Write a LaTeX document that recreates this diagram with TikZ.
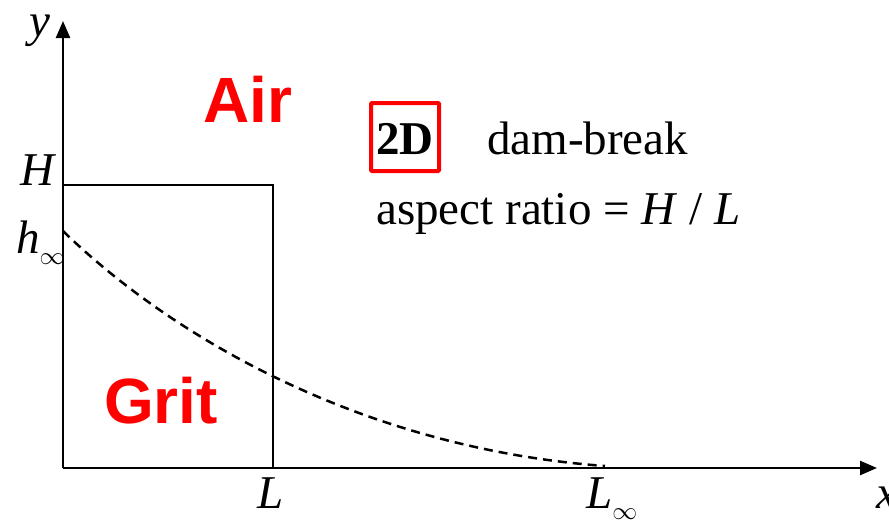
\documentclass[tikz,border=0pt]{standalone}
\usepackage{fontspec}
\setmainfont{Liberation Serif}
\newfontfamily\arialfont{Liberation Sans}
\usetikzlibrary{arrows.meta}
\definecolor{labelred}{RGB}{255,0,0}
\begin{document}
\begin{tikzpicture}[x=1pt,y=-1pt,
  axis/.style={line width=2.4pt,-{Triangle[length=17pt,width=14pt]}},
  damwall/.style={line width=2pt},
  freesurf/.style={line width=2.5pt,dash pattern=on 9pt off 6pt},
  serif/.style={font=\fontsize{47}{52}\selectfont,inner sep=0pt},
  phase/.style={font=\arialfont\bfseries\fontsize{64}{70}\selectfont,text=labelred,inner sep=0pt,anchor=base west},
  dimbox/.style={draw=labelred,line width=4pt,minimum width=68pt,minimum height=68pt,inner sep=0pt,rounded corners=1pt}]
\useasboundingbox (0,0) rectangle (889,523);
\coordinate (O) at (63,468);
\coordinate (ytip) at (63,21);
\coordinate (xtip) at (877,468);
\coordinate (TL) at (63,185);
\coordinate (TR) at (273,185);
\coordinate (BR) at (273,468);
\coordinate (hstart) at (63,231);
\coordinate (hend) at (605,466);
% axes
\draw[axis] (O) -- (ytip);
\draw[axis] (O) -- (xtip);
% dam column
\draw[damwall] (TL) -- (TR) -- (BR);
% final free surface
\draw[freesurf] (hstart) .. controls (170,335) and (360,448) .. (hend);
% axis labels
\node[serif,anchor=base] (ylab) at (40,36) {\itshape y};
\node[serif,anchor=base west] (xlab) at (876,508) {\itshape x};
\node[serif,anchor=base east] (Hlab) at (55,185) {\itshape H};
\node[serif,anchor=base west] (hlab) at (16,253) {\itshape h\raisebox{-0.25em}{\fontsize{30}{30}\selectfont$\infty$}};
\node[serif,anchor=base] (Llab) at (271,508) {\itshape L};
\node[serif,anchor=base west] (Linf) at (586,508) {\itshape L\raisebox{-0.25em}{\fontsize{30}{30}\selectfont$\infty$}};
% phases
\node[phase] (air) at (203,122) {Air};
\node[phase] (grit) at (104,423) {Grit};
% description
\node[dimbox] (box) at (405,137) {};
\node[serif,anchor=base] (twoD) at (405,154) {\bfseries 2D};
\node[serif,anchor=base west] (dam) at (487,154) {dam-break};
\node[serif,anchor=base west] (aspect) at (376,224) {aspect ratio = \textit{H} / \textit{L}};
\end{tikzpicture}
\end{document}
